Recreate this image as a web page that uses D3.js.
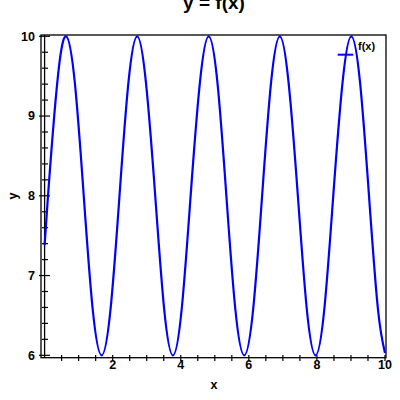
<!DOCTYPE html>
<html><head><meta charset="utf-8">
<script src="https://cdn.jsdelivr.net/npm/d3@7"></script>
<style>
body{margin:0;background:#fff;}
text{font-family:"Liberation Sans",Arial,Helvetica,sans-serif;font-weight:bold;fill:#000;}
</style></head>
<body><svg id="c" width="400" height="400"></svg>
<script>
// data
const xs = [0, 0.10, 0.37, 0.63, 0.89, 1.15, 1.41, 1.675, 1.94, 2.20, 2.46, 2.72, 2.98, 3.25, 3.51, 3.77,
  4.03, 4.29, 4.56, 4.82, 5.08, 5.34, 5.60, 5.865, 6.13, 6.39, 6.65, 6.91, 7.17, 7.44, 7.70, 7.96,
  8.22, 8.48, 8.75, 9.01, 9.27, 9.53, 9.79, 10.0];
const ys = [7.38, 8.0, 9.41, 10.0, 9.41, 8.0, 6.59, 6.0, 6.59, 8.0, 9.41, 10.0, 9.41, 8.0, 6.59, 6.0,
  6.59, 8.0, 9.41, 10.0, 9.41, 8.0, 6.59, 6.0, 6.59, 8.0, 9.41, 10.0, 9.41, 8.0, 6.59, 6.0,
  6.59, 8.0, 9.41, 10.0, 9.41, 8.0, 6.59, 6.03];
const xTickLabels = [2, 4, 6, 8, 10];
const yTickLabels = [6, 7, 8, 9, 10];
const seriesName = "f(x)";
const titleText = "y = f(x)";

const svg = d3.select("#c");
const x = d3.scaleLinear().domain([0, 10]).range([44.6, 385]);
const y = d3.scaleLinear().domain([6, 10]).range([355.3, 36.3]);
const fL = 41, fR = 386, fT = 35, fB = 357.7;

// frame
svg.append("rect").attr("x", fL).attr("y", fT).attr("width", fR-fL).attr("height", fB-fT)
  .attr("fill", "none").attr("stroke", "#000").attr("stroke-width", 1.3);
svg.append("line").attr("x1", x(0)).attr("x2", x(0)).attr("y1", fT).attr("y2", fB)
  .attr("stroke", "#000").attr("stroke-width", 1.3);

// y ticks
const yMinor = d3.range(6, 10.001, 0.2);
svg.append("g").selectAll("line").data(yMinor).join("line")
  .attr("x1", d => Math.abs(d - Math.round(d)) < 1e-6 ? 39 : 42)
  .attr("x2", d => Math.abs(d - Math.round(d)) < 1e-6 ? 50 : 48)
  .attr("y1", d => y(d)).attr("y2", d => y(d))
  .attr("stroke", "#000").attr("stroke-width", 1.2);
svg.append("g").selectAll("text").data(yTickLabels).join("text")
  .attr("x", 35).attr("y", d => y(d)).attr("dy", "0.35em")
  .attr("text-anchor", "end").attr("font-size", 12.5).text(d => d);

// x ticks
const xMinor = d3.range(0.5, 10.001, 0.5);
svg.append("g").selectAll("line").data(xMinor).join("line")
  .attr("x1", d => x(d)).attr("x2", d => x(d))
  .attr("y1", 355).attr("y2", 361)
  .attr("stroke", "#000").attr("stroke-width", 1.2);
svg.append("g").selectAll("text").data(xTickLabels).join("text")
  .attr("x", d => x(d)).attr("y", 368.5)
  .attr("text-anchor", "middle").attr("font-size", 12.5).text(d => d);

// curve
const pts = xs.map((v, i) => [v, ys[i]]);
svg.append("path").datum(pts)
  .attr("d", d3.line().x(d => x(d[0])).y(d => y(d[1])).curve(d3.curveNatural))
  .attr("fill", "none").attr("stroke", "#0000ff").attr("stroke-width", 2.2);

// legend
svg.append("line").attr("x1", 337.7).attr("x2", 353.3).attr("y1", 54.7).attr("y2", 54.7)
  .attr("stroke", "#0000ff").attr("stroke-width", 2);
svg.append("text").attr("x", 358).attr("y", 49.5).attr("font-size", 11).text(seriesName);

// titles
svg.append("text").attr("x", 214).attr("y", 8.5).attr("text-anchor", "middle").attr("font-size", 19).text(titleText);
svg.append("text").attr("x", 214).attr("y", 388.5).attr("text-anchor", "middle").attr("font-size", 12.5).text("x");
svg.append("text").attr("transform", "translate(17,196) rotate(-90)").attr("text-anchor", "middle").attr("font-size", 12.5).text("y");
</script></body></html>
